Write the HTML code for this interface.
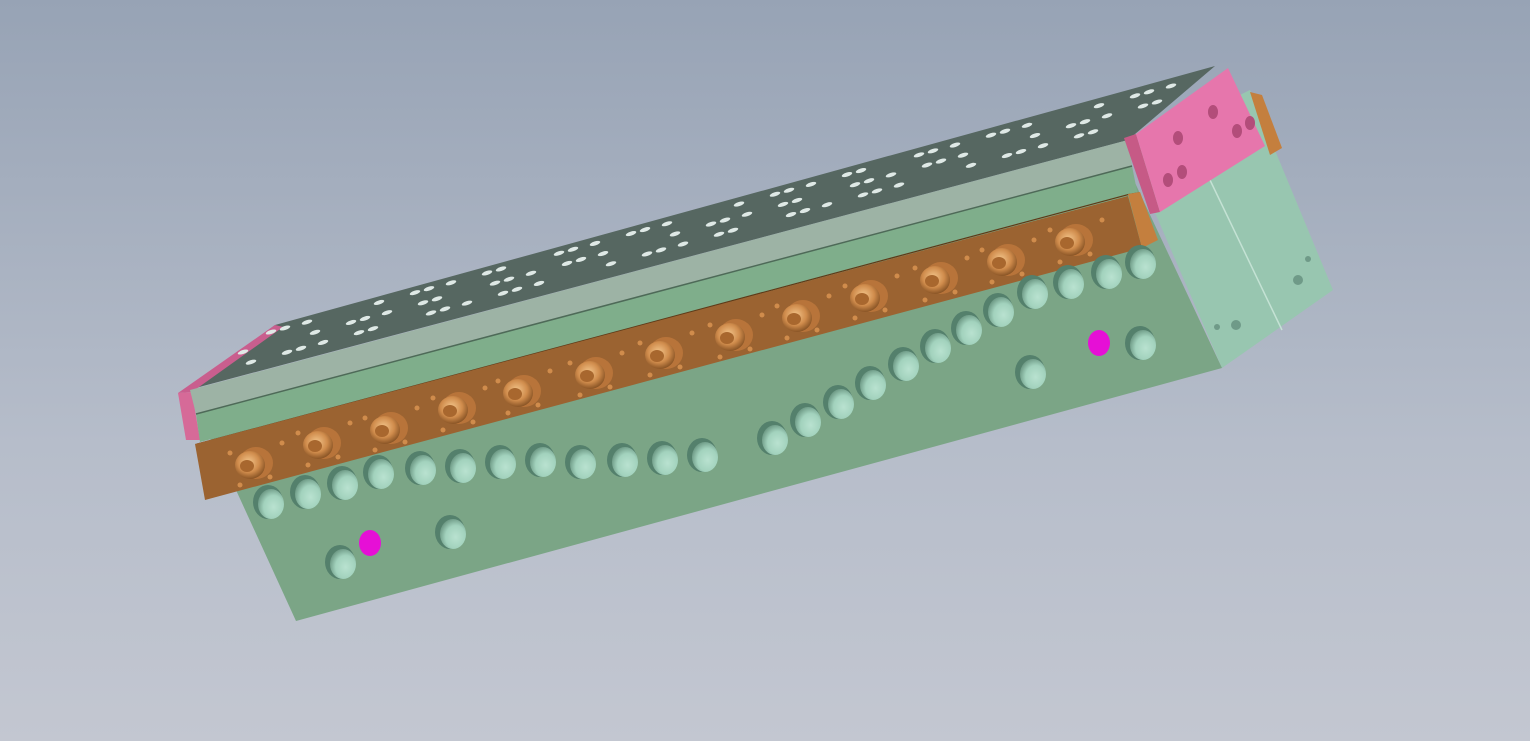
<!DOCTYPE html>
<html><head><meta charset="utf-8"><style>
html,body{margin:0;padding:0;width:1530px;height:741px;overflow:hidden;background:linear-gradient(#97a3b5,#b6bdca 60%,#c3c7d1);}
svg{position:absolute;left:0;top:0}
</style></head><body>
<svg id="s" width="1530" height="741" viewBox="0 0 1530 741">
<defs>
<radialGradient id="h" cx="0.6" cy="0.6" r="0.7"><stop offset="0" stop-color="#b9e2d0"/><stop offset="0.55" stop-color="#a2d2bd"/><stop offset="1" stop-color="#5f8a76"/></radialGradient>
<radialGradient id="c" cx="0.45" cy="0.4" r="0.6"><stop offset="0" stop-color="#f2c48a"/><stop offset="0.6" stop-color="#d08c4c"/><stop offset="1" stop-color="#8a5526"/></radialGradient>
<clipPath id="tc"><polygon points="188,390 275,325 1215,66 1128,140"/></clipPath>
</defs>
<polygon points="1128,150 1250,90 1333,290 1222,368" fill="#98c6b0"/>
<line x1="1210" y1="180" x2="1282" y2="330" stroke="#c4e2d4" stroke-width="1.5"/>
<polygon points="1250,92 1262,95 1282,148 1270,155" fill="#c47f3e"/>
<polygon points="196,410 1128,168 1222,368 296,621 236,490" fill="#7ba586"/>
<polygon points="188,390 275,325 1215,66 1128,140" fill="#566761"/>
<polygon points="178,393 275,325 283,327 192,392" fill="#c95e8e"/>
<polygon points="178,393 192,392 200,440 186,440" fill="#d66a98"/>
<polygon points="190,390 1128,140 1132,166 196,414" fill="#9db3a5"/>
<polygon points="196,414 1132,166 1138,196 200,442" fill="#7fae8b"/>
<line x1="196" y1="414" x2="1132" y2="166" stroke="#4e6a58" stroke-width="1.5"/>
<polygon points="195,444 1128,194 1140,192 208,442" fill="#5e3a18"/>
<polygon points="195,444 1128,196 1142,248 205,500" fill="#9b6331"/>
<polygon points="1128,194 1140,192 1158,240 1142,248" fill="#c47f3e"/>
<g id="holes"></g>
<g id="top" clip-path="url(#tc)"></g>
<g id="fit"></g>
<polygon points="1124,138 1136,134 1160,212 1150,214" fill="#c65a86"/>
<polygon points="1136,134 1228,68 1265,146 1160,212" fill="#e676ac"/>
<g fill="#b34d7a"><ellipse cx="1178" cy="138" rx="5" ry="7"/><ellipse cx="1213" cy="112" rx="5" ry="7"/><ellipse cx="1237" cy="131" rx="5" ry="7"/><ellipse cx="1250" cy="123" rx="5" ry="7"/><ellipse cx="1168" cy="180" rx="5" ry="7"/><ellipse cx="1182" cy="172" rx="5" ry="7"/></g>
<g fill="#6f9a88"><circle cx="1217" cy="327" r="3"/><circle cx="1236" cy="325" r="5"/><circle cx="1298" cy="280" r="5"/><circle cx="1308" cy="259" r="3"/></g>
</svg>
<script>
var NS="http://www.w3.org/2000/svg";
function el(p,t,a){var e=document.createElementNS(NS,t);for(var k in a)e.setAttribute(k,a[k]);document.getElementById(p).appendChild(e);return e;}
var row=[[268,502],[305,492],[342,483],[378,472],[420,468],[460,466],[500,462],[540,460],[580,462],[622,460],[662,458],[702,455],[772,438],[805,420],[838,402],[870,383],[903,364],[935,346],[966,328],[998,310],[1032,292],[1068,282],[1106,272],[1140,262]];
function hole(p){el("holes","ellipse",{cx:p[0],cy:p[1],rx:15,ry:17,fill:"#54806c"});el("holes","ellipse",{cx:p[0]+3,cy:p[1]+2,rx:13,ry:15,fill:"url(#h)"});}
row.forEach(hole);
[[340,562],[450,532],[1030,372],[1140,343]].forEach(hole);
el("holes","ellipse",{cx:370,cy:543,rx:11,ry:13,fill:"#e60fd6"});
el("holes","ellipse",{cx:1099,cy:343,rx:11,ry:13,fill:"#e60fd6"});
var f=[[250,465],[318,445],[385,430],[453,410],[518,393],[590,375],[660,355],[730,337],[797,318],[865,298],[935,280],[1002,262],[1070,242]];
f.forEach(function(p){el("fit","ellipse",{cx:p[0]+6,cy:p[1]-2,rx:17,ry:16,fill:"#b8743a"});el("fit","ellipse",{cx:p[0],cy:p[1],rx:15,ry:14,fill:"url(#c)"});el("fit","ellipse",{cx:p[0]-3,cy:p[1]+1,rx:7,ry:6,fill:"#a8672e"});
el("fit","circle",{cx:p[0]-20,cy:p[1]-12,r:2.5,fill:"#d08c4c"});el("fit","circle",{cx:p[0]+32,cy:p[1]-22,r:2.5,fill:"#d08c4c"});el("fit","circle",{cx:p[0]+20,cy:p[1]+12,r:2.5,fill:"#d08c4c"});el("fit","circle",{cx:p[0]-10,cy:p[1]+20,r:2.5,fill:"#d08c4c"});});
for(var r=0;r<3;r++){for(var i=0;i<26;i++){var t=i/25;var x=215+t*900+r*28;var y=372-t*246-r*20;
if((i*7+r*3)%5==0)continue;el("top","ellipse",{cx:x,cy:y,rx:5.5,ry:2,fill:"#dfe9e6",transform:"rotate(-18 "+x+" "+y+")"});if((i+r)%2==0)el("top","ellipse",{cx:x+14,cy:y-4,rx:5.5,ry:2,fill:"#dfe9e6",transform:"rotate(-18 "+(x+14)+" "+(y-4)+")"});}}
for(var i=0;i<14;i++){var t=i/13;el("top","circle",{cx:262+t*800,cy:380-t*212,r:2.5,fill:"#c9d6d0"});}
</script>
</body></html>
